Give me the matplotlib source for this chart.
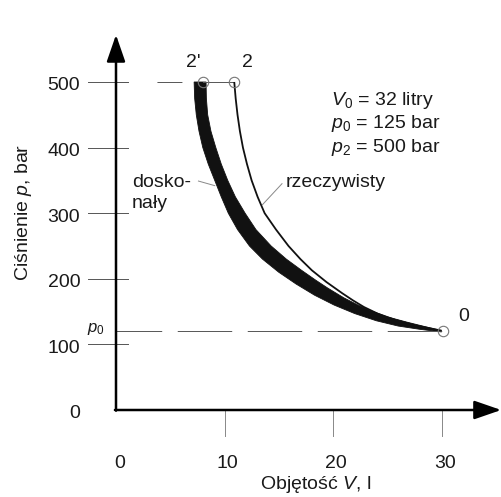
#!/usr/bin/env python3

import matplotlib
matplotlib.use("Agg")
import matplotlib.pyplot as plt

# Font setup: Helvetica-like text, italic symbols from the same family
plt.rcParams['font.family'] = ['Liberation Sans', 'DejaVu Sans']
plt.rcParams['mathtext.fontset'] = 'custom'
plt.rcParams['mathtext.rm'] = 'Liberation Sans'
plt.rcParams['mathtext.it'] = 'Liberation Sans:italic'

# Data
x_ticks = [0, 10, 20, 30]
y_ticks = [0, 100, 200, 300, 400, 500]

# ideal gas ("doskonały") band: lower-left edge and upper-right edge
ideal_lo_p = [500, 475, 450, 425, 400, 375, 350, 325, 300, 275, 250, 230, 210,
              192, 175, 160, 147, 136, 128, 123, 119]
ideal_lo_V = [7.2, 7.25, 7.4, 7.65, 8.0, 8.5, 9.1, 9.7, 10.35, 11.2, 12.3, 13.5, 15.0,
              16.6, 18.3, 20.1, 22.0, 24.0, 26.0, 28.0, 30.0]
ideal_hi_p = [500, 475, 450, 425, 400, 375, 350, 325, 300, 275, 250, 230, 213,
              198, 186, 171, 160, 152, 142, 134, 127, 121]
ideal_hi_V = [8.3, 8.33, 8.45, 8.75, 9.2, 9.7, 10.3, 11.0, 11.9, 12.9, 14.3, 15.7, 17.1,
              18.4, 19.5, 21.0, 22.3, 23.4, 25.0, 26.8, 28.5, 30.0]

# real gas ("rzeczywisty") curve
real_p = [500, 475, 450, 425, 400, 375, 350, 325, 300, 275, 250, 230, 213,
          195, 178, 167, 157, 147, 137, 129, 121]
real_V = [10.9, 11.03, 11.2, 11.42, 11.7, 12.07, 12.5, 13.05, 13.7, 14.75, 15.9, 17.0, 18.05,
          19.4, 20.85, 21.85, 22.85, 24.1, 25.8, 27.6, 30.0]

# state points
pt_2prime = (8.0, 500)
pt_2 = (10.9, 500)
pt_0 = (30.1, 120)

params = [r"$V_0$ = 32 litry", r"$p_0$ = 125 bar", r"$p_2$ = 500 bar"]

TXT = '#1a1a1a'
GRAY = '#555555'
FS = 14

fig = plt.figure(figsize=(5.02, 4.97), dpi=100)
ax = fig.add_axes([0, 0, 1, 1])
ax.set_xlim(-116 / 10.85, (502 - 116) / 10.85)
ax.set_ylim((410 - 497) / 0.656, 410 / 0.656)
ax.axis('off')

# axes with arrow heads
arrow = dict(arrowstyle='-|>,head_length=1.1,head_width=0.38', lw=1.8,
             color='black', shrinkA=0, shrinkB=0, mutation_scale=15)
ax.annotate('', xy=(0, 572), xytext=(0, -1), arrowprops=arrow)
ax.annotate('', xy=(35.5, 0), xytext=(-0.1, 0), arrowprops=arrow)

# y ticks: thin lines crossing the axis
for p in y_ticks[1:]:
    ax.plot([-2.6, 1.1], [p, p], color=GRAY, lw=0.7)
for p in y_ticks:
    ax.text(-3.3, p - 6, str(p), ha='right', va='center', fontsize=FS, color=TXT)

# x ticks: thin lines below the axis
for v in x_ticks[1:]:
    ax.plot([v, v], [0, -40], color='#888888', lw=0.7)
for v in x_ticks:
    ax.text(v + 0.3, -81, str(v), ha='center', va='center', fontsize=FS, color=TXT)

# helper lines at p2 and p0
ax.plot([0, pt_2prime[0]], [500, 500], color=GRAY, lw=0.7,
        linestyle=(0, (12.3, 29.8, 25.7, 200)))
ax.plot([pt_2prime[0], pt_2[0]], [500, 500], color=GRAY, lw=0.7)
ax.plot([0, pt_0[0]], [pt_0[1], pt_0[1]], color=GRAY, lw=0.7,
        linestyle=(9, (56, 16)))

# ideal band
band_V = ideal_lo_V + ideal_hi_V[::-1]
band_p = ideal_lo_p + ideal_hi_p[::-1]
ax.fill(band_V, band_p, color='#111111', lw=0.6, ec='#111111')

# real curve
ax.plot(real_V, real_p, color='#111111', lw=1.3, solid_capstyle='butt')

# state point circles
for pt in (pt_2prime, pt_2, pt_0):
    ax.plot(pt[0], pt[1], 'o', ms=7.5, mfc='none', mec='#777777', mew=0.8)

ax.text(7.1, 530, "2'", ha='center', va='center', fontsize=FS, color=TXT)
ax.text(12.1, 530, "2", ha='center', va='center', fontsize=FS, color=TXT)
ax.text(32.0, 142, "0", ha='center', va='center', fontsize=FS, color=TXT)
ax.text(-1.0, 124, r"$p_0$", ha='right', va='center', fontsize=12, color=TXT)

# parameter block
for i, s in enumerate(params):
    ax.text(19.8, 472 - i * 36, s, ha='left', va='center', fontsize=FS, color=TXT)

# curve labels with leader lines
ax.text(1.45, 347, "dosko-", ha='left', va='center', fontsize=FS, color=TXT)
ax.text(1.45, 315, "nały", ha='left', va='center', fontsize=FS, color=TXT)
ax.plot([7.6, 9.1], [349, 342], color='#888888', lw=0.7)
ax.text(15.6, 347, "rzeczywisty", ha='left', va='center', fontsize=FS, color=TXT)
ax.plot([15.3, 13.5], [345, 313], color='#888888', lw=0.7)

# axis titles
ax.text(18.4, -113, r"Objętość $V$, l", ha='center', va='center', fontsize=FS, color=TXT)
ax.text(-8.5, 302, r"Ciśnienie $p$, bar", ha='center', va='center', rotation=90,
        fontsize=FS, color=TXT)

fig.savefig('out.png', dpi=100)
